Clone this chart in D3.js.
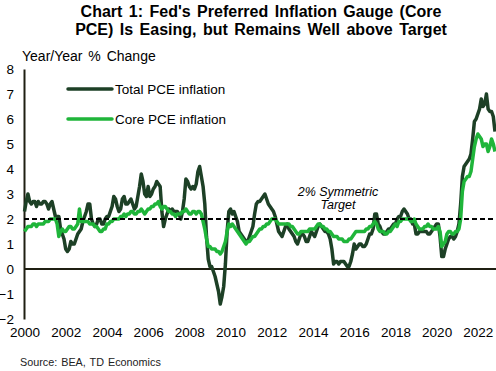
<!DOCTYPE html>
<html>
<head>
<meta charset="utf-8">
<script src="https://cdn.jsdelivr.net/npm/d3@7"></script>
<style>
body { margin: 0; background: #fff; }
svg { display: block; font-family: Arial, "Liberation Sans", sans-serif; }
</style>
</head>
<body>
<svg id="chart" width="496" height="371"></svg>
<script>
// Monthly y/y % change, Jan 2000 - Nov 2022
const startYear = 2000;
const totalPce = [
  2.3, 2.7, 3.0, 2.7, 2.6, 2.7, 2.7, 2.5, 2.7, 2.6, 2.6, 2.7, // 2000
  2.7, 2.6, 2.4, 2.6, 2.7, 2.4, 2.1, 2.1, 2.1, 1.6, 1.4, 1.2, // 2001
  0.8, 0.7, 0.8, 1.1, 1.0, 1.0, 1.2, 1.4, 1.5, 1.6, 1.9, 2.1, // 2002
  2.3, 2.6, 2.6, 2.0, 1.8, 1.7, 1.8, 2.0, 2.0, 1.8, 1.8, 2.0, // 2003
  2.1, 2.1, 2.3, 2.5, 2.9, 2.8, 2.5, 2.3, 2.4, 2.8, 2.9, 2.6, // 2004
  2.6, 2.7, 2.8, 2.6, 2.4, 2.5, 2.9, 3.3, 3.8, 3.5, 3.0, 2.9, // 2005
  3.3, 2.9, 3.0, 3.2, 3.3, 3.5, 3.4, 3.3, 2.3, 1.7, 2.0, 2.2, // 2006
  2.4, 2.3, 2.4, 2.3, 2.3, 2.3, 2.2, 2.0, 2.3, 2.8, 3.6, 3.5, // 2007
  3.3, 3.2, 3.3, 3.2, 3.4, 3.9, 4.1, 3.7, 3.3, 2.6, 1.3, 0.4, // 2008
  0.1, 0.1, -0.1, -0.3, -0.6, -0.9, -1.4, -1.1, -0.7, 0.2, 1.5, 2.3, // 2009
  2.4, 2.2, 2.3, 2.1, 1.9, 1.5, 1.4, 1.3, 1.2, 1.1, 1.1, 1.3, // 2010
  1.5, 1.7, 2.2, 2.6, 2.7, 2.7, 2.8, 2.9, 3.0, 2.8, 2.6, 2.5, // 2011
  2.4, 2.3, 2.1, 1.8, 1.5, 1.4, 1.3, 1.5, 1.7, 1.8, 1.6, 1.5, // 2012
  1.4, 1.3, 1.1, 1.0, 1.2, 1.4, 1.4, 1.3, 1.1, 1.1, 1.3, 1.5, // 2013
  1.4, 1.3, 1.5, 1.7, 1.8, 1.7, 1.6, 1.5, 1.5, 1.4, 1.2, 0.8, // 2014
  0.2, 0.3, 0.3, 0.2, 0.3, 0.3, 0.3, 0.2, 0.1, 0.1, 0.3, 0.6, // 2015
  1.0, 0.8, 0.9, 1.0, 1.0, 0.9, 0.9, 1.0, 1.2, 1.4, 1.4, 1.6, // 2016
  2.2, 2.2, 1.8, 1.7, 1.5, 1.4, 1.4, 1.5, 1.6, 1.6, 1.7, 1.8, // 2017
  1.8, 2.0, 2.1, 2.1, 2.3, 2.4, 2.3, 2.2, 2.0, 2.0, 1.8, 1.8, // 2018
  1.4, 1.4, 1.5, 1.5, 1.5, 1.5, 1.5, 1.4, 1.4, 1.5, 1.6, 1.7, // 2019
  1.8, 1.8, 1.3, 0.5, 0.5, 0.8, 1.0, 1.2, 1.3, 1.3, 1.2, 1.3, // 2020
  1.5, 1.8, 2.6, 3.7, 4.1, 4.2, 4.3, 4.4, 4.6, 5.2, 5.9, 6.0, // 2021
  6.2, 6.4, 6.8, 6.5, 6.6, 7.0, 6.4, 6.3, 6.3, 6.1, 5.5        // 2022
];
const corePce = [
  1.5, 1.6, 1.7, 1.7, 1.7, 1.8, 1.8, 1.7, 1.8, 1.8, 1.8, 1.8, // 2000
  1.9, 1.9, 1.9, 2.0, 2.0, 2.0, 2.0, 1.8, 1.3, 1.5, 1.6, 1.5, // 2001
  1.5, 1.6, 1.7, 1.7, 1.6, 1.6, 1.7, 1.8, 2.4, 1.9, 1.9, 1.9, // 2002
  1.9, 1.9, 1.8, 1.8, 1.8, 1.7, 1.7, 1.6, 1.5, 1.5, 1.6, 1.6, // 2003
  1.8, 1.8, 1.9, 1.9, 2.0, 2.0, 2.0, 2.0, 2.1, 2.1, 2.2, 2.1, // 2004
  2.2, 2.2, 2.3, 2.3, 2.2, 2.2, 2.3, 2.3, 2.4, 2.3, 2.2, 2.3, // 2005
  2.4, 2.4, 2.5, 2.5, 2.6, 2.6, 2.7, 2.5, 2.4, 2.5, 2.5, 2.4, // 2006
  2.3, 2.3, 2.2, 2.2, 2.1, 2.2, 2.2, 2.2, 2.3, 2.3, 2.4, 2.3, // 2007
  2.2, 2.2, 2.3, 2.3, 2.2, 2.3, 2.3, 2.2, 1.9, 1.6, 1.2, 0.9, // 2008
  0.9, 0.8, 0.8, 0.8, 0.7, 0.7, 0.6, 0.7, 0.9, 1.1, 1.5, 1.8, // 2009
  1.7, 1.8, 1.7, 1.6, 1.5, 1.4, 1.3, 1.2, 1.1, 1.0, 1.1, 1.1, // 2010
  1.2, 1.3, 1.3, 1.4, 1.5, 1.6, 1.6, 1.7, 1.7, 1.8, 1.8, 1.9, // 2011
  2.0, 2.0, 2.0, 1.9, 1.8, 1.8, 1.8, 1.8, 1.8, 1.8, 1.8, 1.7, // 2012
  1.7, 1.6, 1.5, 1.4, 1.4, 1.5, 1.5, 1.5, 1.5, 1.5, 1.6, 1.6, // 2013
  1.6, 1.6, 1.7, 1.8, 1.8, 1.7, 1.7, 1.6, 1.6, 1.5, 1.5, 1.4, // 2014
  1.3, 1.3, 1.3, 1.2, 1.2, 1.2, 1.1, 1.1, 1.1, 1.2, 1.2, 1.3, // 2015
  1.4, 1.5, 1.5, 1.5, 1.5, 1.5, 1.5, 1.6, 1.6, 1.7, 1.7, 1.8, // 2016
  1.9, 1.8, 1.6, 1.5, 1.5, 1.5, 1.4, 1.4, 1.5, 1.5, 1.6, 1.7, // 2017
  1.8, 1.7, 1.9, 1.9, 2.0, 2.0, 2.0, 2.0, 2.0, 1.9, 1.9, 2.0, // 2018
  1.8, 1.7, 1.6, 1.6, 1.6, 1.7, 1.7, 1.8, 1.7, 1.7, 1.6, 1.6, // 2019
  1.6, 1.7, 1.5, 0.9, 1.0, 1.1, 1.4, 1.5, 1.5, 1.4, 1.4, 1.5, // 2020
  1.5, 1.6, 2.0, 3.1, 3.5, 3.6, 3.7, 3.7, 3.9, 4.4, 4.9, 5.2, // 2021
  5.4, 5.3, 5.2, 4.9, 5.0, 5.0, 4.7, 4.9, 5.2, 5.0, 4.7        // 2022
];
const yTicks = [-2, -1, 0, 1, 2, 3, 4, 5, 6, 7, 8];
const xTickYears = [2000, 2002, 2004, 2006, 2008, 2010, 2012, 2014, 2016, 2018, 2020, 2022];
const target = 2;
const seriesNames = ["Total PCE inflation", "Core PCE inflation"];
const seriesColors = ["#1d4026", "#1fb53a"];

const svg = d3.select("#chart");

const x = d3.scaleLinear()
    .domain([startYear, startYear + (totalPce.length - 1) / 12])
    .range([24.5, 495]);
const y = d3.scaleLinear().domain([-2, 8]).range([319, 69]);

// Title
const title = svg.append("g")
    .attr("font-weight", "bold")
    .attr("font-size", "16px")
    .attr("text-anchor", "middle")
    .attr("word-spacing", "2px");
title.append("text").attr("x", 261).attr("y", 17).text("Chart 1: Fed's Preferred Inflation Gauge (Core");
title.append("text").attr("x", 261).attr("y", 35).text("PCE) Is Easing, but Remains Well above Target");

svg.append("text")
    .attr("x", 22).attr("y", 61)
    .attr("font-size", "14px")
    .attr("word-spacing", "2px")
    .text("Year/Year % Change");

// Zero line
svg.append("line")
    .attr("x1", 24).attr("x2", 496)
    .attr("y1", y(0)).attr("y2", y(0))
    .attr("stroke", "#1f1f12").attr("stroke-width", 2);

// Y axis
const yAxis = svg.append("g")
    .attr("transform", "translate(24,0)")
    .call(d3.axisLeft(y).tickValues(yTicks).tickSize(0).tickPadding(10).tickFormat(d3.format("d")));
yAxis.select(".domain").attr("stroke", "#1f1f12").attr("stroke-width", 2);
yAxis.selectAll("text").attr("font-size", "13.5px").attr("fill", "#000").attr("font-family", null);

// X axis labels (no line)
const xAxis = svg.append("g")
    .attr("transform", "translate(0,325)")
    .call(d3.axisBottom(x).tickValues(xTickYears).tickSize(0).tickPadding(2).tickFormat(d3.format("d")));
xAxis.select(".domain").remove();
xAxis.selectAll("text").attr("font-size", "13.5px").attr("fill", "#000").attr("font-family", null);

// Series
const line = d3.line()
    .x((d, i) => x(startYear + i / 12))
    .y(d => y(d));

[totalPce, corePce].forEach((s, k) => {
  svg.append("path")
      .datum(s)
      .attr("fill", "none")
      .attr("stroke", seriesColors[k])
      .attr("stroke-width", 3.5)
      .attr("stroke-linejoin", "round")
      .attr("d", line);
});

// Target line
svg.append("line")
    .attr("x1", 24).attr("x2", 496)
    .attr("y1", y(target)).attr("y2", y(target))
    .attr("stroke", "#000").attr("stroke-width", 2)
    .attr("stroke-dasharray", "5,3");

const ann = svg.append("g")
    .attr("font-size", "12.5px")
    .attr("font-style", "italic")
    .attr("text-anchor", "middle");
ann.append("text").attr("x", 338).attr("y", 196).text("2% Symmetric");
ann.append("text").attr("x", 338).attr("y", 209).text("Target");

// Legend
const legend = svg.append("g");
seriesNames.forEach((name, k) => {
  const ly = 89 + k * 30;
  legend.append("line")
      .attr("x1", 68).attr("x2", 112)
      .attr("y1", ly).attr("y2", ly)
      .attr("stroke", seriesColors[k]).attr("stroke-width", 3.5)
      .attr("stroke-linecap", "round");
  legend.append("text")
      .attr("x", 115).attr("y", ly + 5)
      .attr("font-size", "13.5px")
      .text(name);
});

svg.append("text")
    .attr("x", 20).attr("y", 366)
    .attr("font-size", "10.8px")
    .attr("fill", "#222")
    .attr("word-spacing", "1px")
    .text("Source: BEA, TD Economics");
</script>
</body>
</html>
